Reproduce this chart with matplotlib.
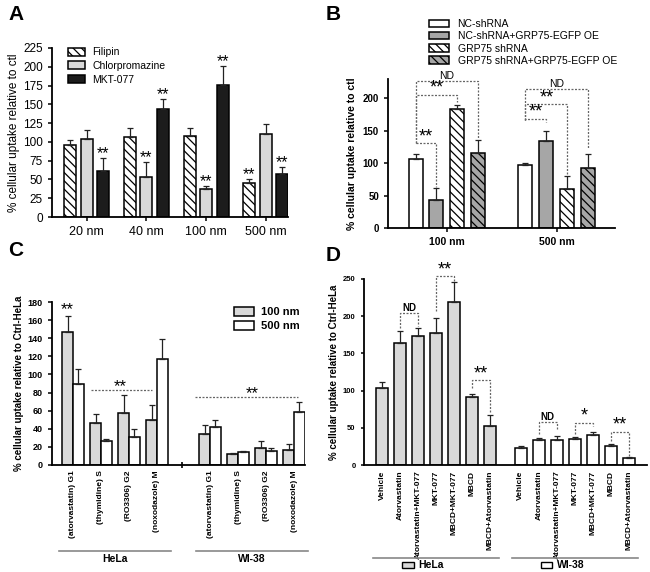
import numpy as np
import matplotlib.pyplot as plt
from matplotlib.patches import Rectangle
import matplotlib.transforms as mtransforms

plt.rcParams['font.family'] = ['Liberation Sans', 'DejaVu Sans']
plt.rcParams['hatch.linewidth'] = 0.9

# ---- panel A data
a_groups = ['20 nm', '40 nm', '100 nm', '500 nm']
a_names = ['Filipin', 'Chlorpromazine', 'MKT-077']
a_filipin = [96, 107, 108, 45]
a_filipin_err = [7, 12, 10, 6]
a_chlor = [104, 53, 37, 111]
a_chlor_err = [12, 20, 4, 13]
a_mkt = [61, 144, 176, 57]
a_mkt_err = [17, 13, 25, 10]
a_filipin_sig = [0, 0, 0, 1]
a_chlor_sig = [0, 1, 1, 0]
a_mkt_sig = [1, 1, 1, 1]

# ---- panel B data
b_groups = ['100 nm', '500 nm']
b_names = ['NC-shRNA', 'NC-shRNA+GRP75-EGFP OE', 'GRP75 shRNA', 'GRP75 shRNA+GRP75-EGFP OE']
b_vals = [[106, 98], [43, 134], [183, 60], [116, 92]]
b_errs = [[8, 3], [19, 15], [7, 20], [20, 22]]
# (group, bar i, bar j, height, drop i, drop j, label)
b_brackets = [
    (0, 0, 3, 227, 131, 139, 'ND'),
    (0, 0, 2, 206, 131, 195, '**'),
    (0, 0, 1, 131, 131, 64, '**'),
    (1, 0, 3, 214, 166, 122, 'ND'),
    (1, 0, 2, 191, 166, 84, '**'),
    (1, 0, 1, 169, 166, 164, '**'),
]

# ---- panel C data
c_conds = ['(atorvastatin) G1', '(thymidine) S', '(RO3306) G2', '(noxodazole) M']
c_hela_100 = [147, 46, 57, 50]
c_hela_100_err = [18, 10, 20, 16]
c_hela_500 = [90, 26, 31, 117]
c_hela_500_err = [16, 3, 9, 22]
c_wi_100 = [34, 12, 19, 17]
c_wi_100_err = [10, 1, 7, 6]
c_wi_500 = [42, 14, 15, 59]
c_wi_500_err = [8, 1, 4, 11]

# ---- panel D data
d_conds = ['Vehicle', 'Atorvastatin', 'Atorvastatin+MKT-077', 'MKT-077',
           'MBCD+MKT-077', 'MBCD', 'MBCD+Atorvastatin']
d_hela = [103, 164, 173, 178, 219, 91, 53]
d_hela_err = [8, 16, 11, 19, 27, 5, 14]
d_wi = [23, 33, 34, 35, 40, 26, 9]
d_wi_err = [2, 3, 5, 2, 4, 2, 1.5]
# (cell line, bar i, bar j, height, drop i, drop j, label)
d_brackets = [
    (0, 1, 2, 204, 184, 187, 'ND'),
    (0, 3, 4, 254, 207, 247, '**'),
    (0, 5, 6, 114, 104, 70, '**'),
    (1, 1, 2, 58, 42, 47, 'ND'),
    (1, 3, 4, 57, 42, 52, '*'),
    (1, 5, 6, 45, 32, 12, '**'),
]

W, H = 650, 572
fig = plt.figure(figsize=(6.5, 5.72), dpi=100)


def box(l, r, t, b):
    return [l / W, 1 - b / H, (r - l) / W, (b - t) / H]


def style(ax):
    for s in ['top', 'right']:
        ax.spines[s].set_visible(False)
    ax.spines['left'].set_linewidth(1.3)
    ax.spines['bottom'].set_linewidth(1.3)
    ax.tick_params(width=1.1, length=3)


def upper_err(ax, x, y, e, lw=0.9):
    ax.errorbar(x, y, yerr=[np.zeros(len(e)), e], fmt='none', ecolor='#222',
                elinewidth=lw, capsize=2.2, capthick=lw)


def bracket(ax, x1, x2, h, d1, d2, label, fs_star=12, fs_nd=7, bold=False):
    ls = (0, (1.6, 1.2))
    ax.plot([x1, x1, x2, x2], [d1, h, h, d2], color='#666', lw=0.9, ls=ls,
            clip_on=False)
    if label == 'ND':
        ax.text((x1 + x2) / 2, h, 'ND', ha='center', va='bottom', fontsize=fs_nd,
                fontweight='bold' if bold else 'normal', clip_on=False)
    else:
        ax.text((x1 + x2) / 2, h - 3, label, ha='center', va='bottom',
                fontsize=fs_star, clip_on=False)


# ================= A
ax = fig.add_axes(box(52, 288, 48, 217))
style(ax)
x = np.arange(len(a_groups))
off, bw = 0.276, 0.2
series = [(a_filipin, a_filipin_err, a_filipin_sig, 'white', '\\\\\\\\'),
          (a_chlor, a_chlor_err, a_chlor_sig, '#d9d9d9', ''),
          (a_mkt, a_mkt_err, a_mkt_sig, '#1c1c1c', '')]
for k, (v, e, sig, col, hat) in enumerate(series):
    xs = x + (k - 1) * off
    ax.bar(xs, v, bw, color=col, edgecolor='black', lw=1.1, hatch=hat,
           label=a_names[k], zorder=2)
    upper_err(ax, xs, v, e)
    for xi, vi, ei, si in zip(xs, v, e, sig):
        if si:
            ax.text(xi, vi + ei - 4, '**', ha='center', va='bottom', fontsize=11.5)
ax.set_xlim(-0.58, 3.37)
ax.set_ylim(0, 225)
ax.set_yticks(np.arange(0, 226, 25))
ax.set_xticks(x)
ax.set_xticklabels(a_groups, fontsize=9)
ax.tick_params(axis='y', labelsize=8.5)
ax.set_ylabel('% cellular uptake relative to ctl', fontsize=8.5, labelpad=2)
ax.legend(loc='upper left', bbox_to_anchor=(0.03, 1.06), frameon=False,
          fontsize=7.5, handlelength=1.6, handleheight=0.8, labelspacing=0.35,
          handletextpad=0.7)

# ================= B
ax = fig.add_axes(box(388, 615, 79, 228))
style(ax)
x = np.arange(len(b_groups))
off, bw = 0.19, 0.127
b_cols = ['white', '#a6a6a6', 'white', '#a6a6a6']
b_hatch = ['', '', '\\\\\\\\', '\\\\\\\\']
bar_x = []
for k in range(4):
    xs = x + (k - 1.5) * off
    bar_x.append(xs)
    ax.bar(xs, b_vals[k], bw, color=b_cols[k], edgecolor='black', lw=1.1,
           hatch=b_hatch[k], label=b_names[k], zorder=2)
    upper_err(ax, xs, b_vals[k], b_errs[k])
for g, i, j, h, d1, d2, lab in b_brackets:
    bracket(ax, bar_x[i][g], bar_x[j][g], h, d1, d2, lab, fs_star=13, fs_nd=7.5)
ax.set_xlim(-0.536, 1.53)
ax.set_ylim(0, 230)
ax.set_yticks([0, 50, 100, 150, 200])
ax.set_xticks(x)
ax.set_xticklabels(b_groups, fontsize=7.5, fontweight='bold')
ax.tick_params(axis='y', labelsize=7)
for t in ax.get_yticklabels():
    t.set_fontweight('bold')
ax.set_ylabel('% cellular uptake relative to ctl', fontsize=7.5,
              fontweight='bold', labelpad=4)
h_, l_ = ax.get_legend_handles_labels()
fig.legend(h_, l_, loc='upper left', bbox_to_anchor=(420 / W, 1 - 10 / H),
           frameon=False, fontsize=7.5, handlelength=1.9, handleheight=0.7,
           labelspacing=0.2, handletextpad=0.8)

# ================= C
ax = fig.add_axes(box(52, 305, 302, 465))
style(ax)
n = len(c_conds)
pos_hela = np.arange(n)
pos_wi = np.arange(n) + 4.9
bw = 0.38
for pos, v1, e1, v2, e2 in [(pos_hela, c_hela_100, c_hela_100_err, c_hela_500, c_hela_500_err),
                            (pos_wi, c_wi_100, c_wi_100_err, c_wi_500, c_wi_500_err)]:
    ax.bar(pos - bw / 2, v1, bw, color='#d9d9d9', edgecolor='black', lw=1.1, zorder=2)
    ax.bar(pos + bw / 2, v2, bw, color='white', edgecolor='black', lw=1.1, zorder=2)
    upper_err(ax, pos - bw / 2, v1, e1)
    upper_err(ax, pos + bw / 2, v2, e2)
ax.text(pos_hela[0] - bw / 2, 163, '**', ha='center', va='bottom', fontsize=12)
ls = (0, (1.6, 1.2))
ax.plot([0.64, 2.82], [82.5, 82.5], color='#666', lw=0.9, ls=ls)
ax.text(1.68, 78, '**', ha='center', va='bottom', fontsize=12)
ax.plot([4.36, 8.04], [75, 75], color='#666', lw=0.9, ls=ls)
ax.text(6.4, 70.5, '**', ha='center', va='bottom', fontsize=12)
ax.set_xlim(-0.75, 8.29)
ax.set_ylim(0, 180)
ax.set_yticks(np.arange(0, 181, 20))
allpos = np.concatenate([pos_hela, pos_wi])
ax.set_xticks(allpos)
ax.set_xticklabels(c_conds * 2, rotation=90, fontsize=6, fontweight='bold')
ax.tick_params(axis='x', length=0, pad=4)
ax.plot([3.9], [0], marker='|', color='black', ms=4, mew=1.2, clip_on=False)
ax.tick_params(axis='y', labelsize=6.5)
for t in ax.get_yticklabels():
    t.set_fontweight('bold')
ax.set_ylabel('% cellular uptake relative to Ctrl-HeLa', fontsize=7,
              fontweight='bold', labelpad=3)
leg_h = [Rectangle((0, 0), 1, 1, fc='#d9d9d9', ec='black', lw=1.1),
         Rectangle((0, 0), 1, 1, fc='white', ec='black', lw=1.1)]
ax.legend(leg_h, ['100 nm', '500 nm'], loc='upper left',
          bbox_to_anchor=(0.68, 1.03), frameon=False, prop={'size': 8, 'weight': 'bold'},
          handlelength=1.8, handleheight=0.8, labelspacing=0.35, handletextpad=0.6)
tr = mtransforms.blended_transform_factory(ax.transData, ax.transAxes)
for pos, name in [(pos_hela, 'HeLa'), (pos_wi, 'WI-38')]:
    ax.plot([pos[0] - 0.5, pos[-1] + 0.5], [-0.528, -0.528], color='#888',
            lw=1.2, transform=tr, clip_on=False)
    ax.text((pos[0] + pos[-1]) / 2, -0.575, name, transform=tr, ha='center',
            va='center', fontsize=7.5, fontweight='bold')

# ================= D
ax = fig.add_axes(box(364, 647, 279, 465))
style(ax)
m = len(d_conds)
pos_hela = np.arange(m)
pos_wi = np.arange(m) + 7.7
bw = 0.65
ax.bar(pos_hela, d_hela, bw, color='#d9d9d9', edgecolor='black', lw=1.1, zorder=2)
ax.bar(pos_wi, d_wi, bw, color='white', edgecolor='black', lw=1.1, zorder=2)
upper_err(ax, pos_hela, d_hela, d_hela_err)
upper_err(ax, pos_wi, d_wi, d_wi_err)
for c, i, j, h, d1, d2, lab in d_brackets:
    p = pos_hela if c == 0 else pos_wi
    bracket(ax, p[i], p[j], h, d1, d2, lab, fs_star=13, fs_nd=7, bold=True)
ax.set_xlim(-1.0, 14.7)
ax.set_ylim(0, 250)
ax.set_yticks([0, 50, 100, 150, 200, 250])
ax.set_xticks(np.concatenate([pos_hela, pos_wi]))
ax.set_xticklabels(d_conds * 2, rotation=90, fontsize=6, fontweight='bold')
ax.tick_params(axis='x', length=0, pad=4)
ax.tick_params(axis='y', labelsize=5.5, length=2.5)
for t in ax.get_yticklabels():
    t.set_fontweight('bold')
ax.set_ylabel('% cellular uptake relative to Ctrl-HeLa', fontsize=7,
              fontweight='bold', labelpad=3)
tr = mtransforms.blended_transform_factory(ax.transData, ax.transAxes)
for pos, name, col in [(pos_hela, 'HeLa', '#d9d9d9'), (pos_wi, 'WI-38', 'white')]:
    ax.plot([pos[0] - 0.5, pos[-1] + 0.5], [-0.498, -0.498], color='#888',
            lw=1.2, transform=tr, clip_on=False)
    xc = (pos[0] + pos[-1]) / 2
    ax.add_patch(Rectangle((xc - 1.9, -0.552), 0.65, 0.03, transform=tr,
                           fc=col, ec='black', lw=1.0, clip_on=False))
    ax.text(xc - 1.0, -0.538, name, transform=tr, ha='left', va='center',
            fontsize=7.5, fontweight='bold')

# panel letters
for lab, px, py in [('A', 8, 15), ('B', 326, 15), ('C', 8, 251), ('D', 326, 256)]:
    fig.text(px / W, 1 - py / H, lab, fontsize=15, fontweight='bold',
             ha='left', va='center')

fig.savefig('out.png', dpi=100)
